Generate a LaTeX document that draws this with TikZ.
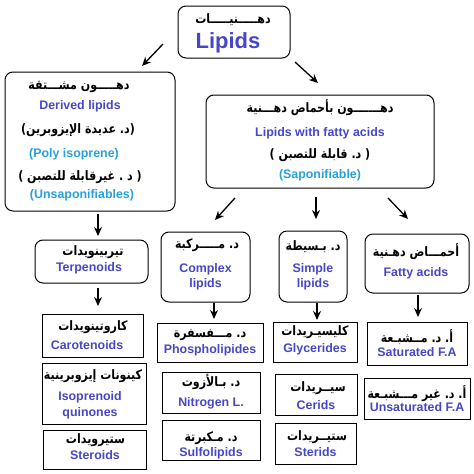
\documentclass[tikz,border=0pt]{standalone}
\usepackage{fontspec}
\usetikzlibrary{arrows.meta}
\newfontfamily\arabicfont[Script=Arabic, FakeStretch=0.85]{DejaVu Sans}
\newfontfamily\enfont{Liberation Sans}
\TeXXeTstate=1
\frenchspacing
\newcommand{\artxt}[1]{\beginR #1\endR}
\definecolor{lipblue}{RGB}{70,70,200}
\definecolor{sapblue}{RGB}{40,160,220}
\tikzset{
  cat/.style={draw, rounded corners=8pt, line width=1pt, inner sep=0pt},
  leaf/.style={draw, line width=1pt, inner sep=0pt},
  ar/.style={font=\arabicfont\bfseries\fontsize{13}{15}\selectfont, inner sep=0pt},
  en/.style={font=\enfont\bfseries\fontsize{12.4}{14}\selectfont, text=lipblue, inner sep=0pt},
  sap/.style={en, text=sapblue},
  arr/.style={-{Stealth[length=9pt,width=8pt]}, line width=1.3pt}
}
\begin{document}
\begin{tikzpicture}[x=1pt,y=-1pt]
      \useasboundingbox (0,0) rectangle (474,474);

      % boxes
      \begin{scope}[every node/.style={cat}]
        \node[minimum width=112, minimum height=52]  (lip) at (234,32)    {};
        \node[minimum width=170, minimum height=139] (der) at (90,141.5)  {};
        \node[minimum width=228, minimum height=93]  (fat) at (320,141.5) {};
        \node[minimum width=113, minimum height=43]  (ter) at (91.5,261.5) {};
        \node[minimum width=89,  minimum height=70]  (cpx) at (205.5,267) {};
        \node[minimum width=68,  minimum height=71]  (smp) at (313,266.5) {};
        \node[minimum width=104, minimum height=59]  (fa)  at (417,263.5) {};
      \end{scope}
      \begin{scope}[every node/.style={leaf}]
        \node[minimum width=101, minimum height=43] (car) at (92.5,335.5) {};
        \node[minimum width=104, minimum height=61] (iso) at (94,393.5)   {};
        \node[minimum width=103, minimum height=39] (ste) at (94.5,449.5) {};
        \node[minimum width=106, minimum height=39] (pho) at (210,342.5)  {};
        \node[minimum width=98,  minimum height=41] (nit) at (211,392.5)  {};
        \node[minimum width=98,  minimum height=40] (sul) at (211,440)    {};
        \node[minimum width=84,  minimum height=40] (gly) at (315,342)    {};
        \node[minimum width=82,  minimum height=41] (cer) at (316,394.5)  {};
        \node[minimum width=81,  minimum height=41] (str) at (315.5,443.5) {};
        \node[minimum width=100, minimum height=43] (sat) at (417,343.5)  {};
        \node[minimum width=106, minimum height=41] (uns) at (417,398.5)  {};
      \end{scope}

      % texts
      \node[ar] (lip-a) at (233,20) {\artxt{دهـــــنيـــــات}};
      \node[en, font=\enfont\bfseries\fontsize{22}{24}\selectfont] (lip-e) at (228,43) {Lipids};

      \node[ar]  (der-a1) at (79,87)  {\artxt{دهـــــون مشـــتقة}};
      \node[en]  (der-e1) at (80,106) {Derived lipids};
      \node[ar]  (der-a2) at (78,130) {\artxt{(د. عديدة الإيزوبرين)}};
      \node[sap] (der-e2) at (74,154) {(Poly isoprene)};
      \node[ar]  (der-a3) at (80,177) {\artxt{( د . غيرقابلة للتصبن )}};
      \node[sap] (der-e3) at (82,195) {(Unsaponifiables)};

      \node[ar]  (fat-a1) at (320,108) {\artxt{دهـــــــون بأحماض دهـــنية}};
      \node[en]  (fat-e1) at (320,133) {Lipids with fatty acids};
      \node[ar]  (fat-a2) at (320,155) {\artxt{( د. قابلة للتصبن )}};
      \node[sap] (fat-e2) at (320,175) {(Saponifiable)};

      \node[ar] (ter-a) at (93,252) {\artxt{تيربينويدات}};
      \node[en] (ter-e) at (89,268) {Terpenoids};
      \node[ar] (cpx-a) at (207,245) {\artxt{د. مـــــركبة}};
      \node[en] (cpx-e1) at (205.5,269) {Complex};
      \node[en] (cpx-e2) at (205.5,284) {lipids};
      \node[ar] (smp-a) at (313,247) {\artxt{د. بـسيطة}};
      \node[en] (smp-e1) at (313,269) {Simple};
      \node[en] (smp-e2) at (313,284) {lipids};
      \node[ar] (fa-a) at (416,252) {\artxt{أحمـــاض دهـنية}};
      \node[en] (fa-e) at (416,273) {Fatty acids};

      \node[ar] (car-a) at (93,327) {\artxt{كاروتينويدات}};
      \node[en] (car-e) at (87,345) {Carotenoids};
      \node[ar] (iso-a) at (93,376) {\artxt{كينونات إيزوبرينية}};
      \node[en] (iso-e1) at (90,397) {Isoprenoid};
      \node[en] (iso-e2) at (90,413) {quinones};
      \node[ar] (ste-a) at (95.5,440) {\artxt{ستيرويدات}};
      \node[en] (ste-e) at (95,455) {Steroids};

      \node[ar] (pho-a) at (210,335) {\artxt{د. مـــفسفرة}};
      \node[en] (pho-e) at (210,350) {Phospholipides};
      \node[ar] (nit-a) at (211,382) {\artxt{د. بـالأزوت}};
      \node[en] (nit-e) at (211,403) {Nitrogen L.};
      \node[ar] (sul-a) at (211,438) {\artxt{د. مـكبرتة}};
      \node[en] (sul-e) at (211,453) {Sulfolipids};

      \node[ar] (gly-a) at (315,332) {\artxt{كليسيـريدات}};
      \node[en] (gly-e) at (315,349) {Glycerides};
      \node[ar] (cer-a) at (318,388) {\artxt{سيــريدات}};
      \node[en] (cer-e) at (316,405) {Cerids};
      \node[ar] (str-a) at (317,437) {\artxt{ستيــريدات}};
      \node[en] (str-e) at (315.5,452) {Sterids};

      \node[ar] (sat-a) at (417,337) {\artxt{أ. د. مــشبـعة}};
      \node[en] (sat-e) at (417,352) {Saturated F.A};
      \node[ar] (uns-a) at (417,394) {\artxt{أ. د. غير مـــشبـعة}};
      \node[en] (uns-e) at (417,407) {Unsaturated F.A};

      % arrows
      \coordinate (a1) at (163,44);  \coordinate (b1) at (142,66);
      \coordinate (a2) at (295,62);  \coordinate (b2) at (318,83);
      \coordinate (a3) at (235,198); \coordinate (b3) at (215,220);
      \coordinate (a4) at (316,197); \coordinate (b4) at (316,219);
      \coordinate (a5) at (388,198); \coordinate (b5) at (408,219);
      \coordinate (a6) at (98,214);  \coordinate (b6) at (98,236);
      \coordinate (a7) at (98,288);  \coordinate (b7) at (98,306);
      \coordinate (a8) at (214,303); \coordinate (b8) at (214,319);
      \coordinate (a9) at (317,303); \coordinate (b9) at (317,320);
      \coordinate (a10) at (418,295); \coordinate (b10) at (418,317);
      \foreach \i in {1,...,10}
        \draw[arr] (a\i) -- (b\i);

    \end{tikzpicture}
\end{document}
